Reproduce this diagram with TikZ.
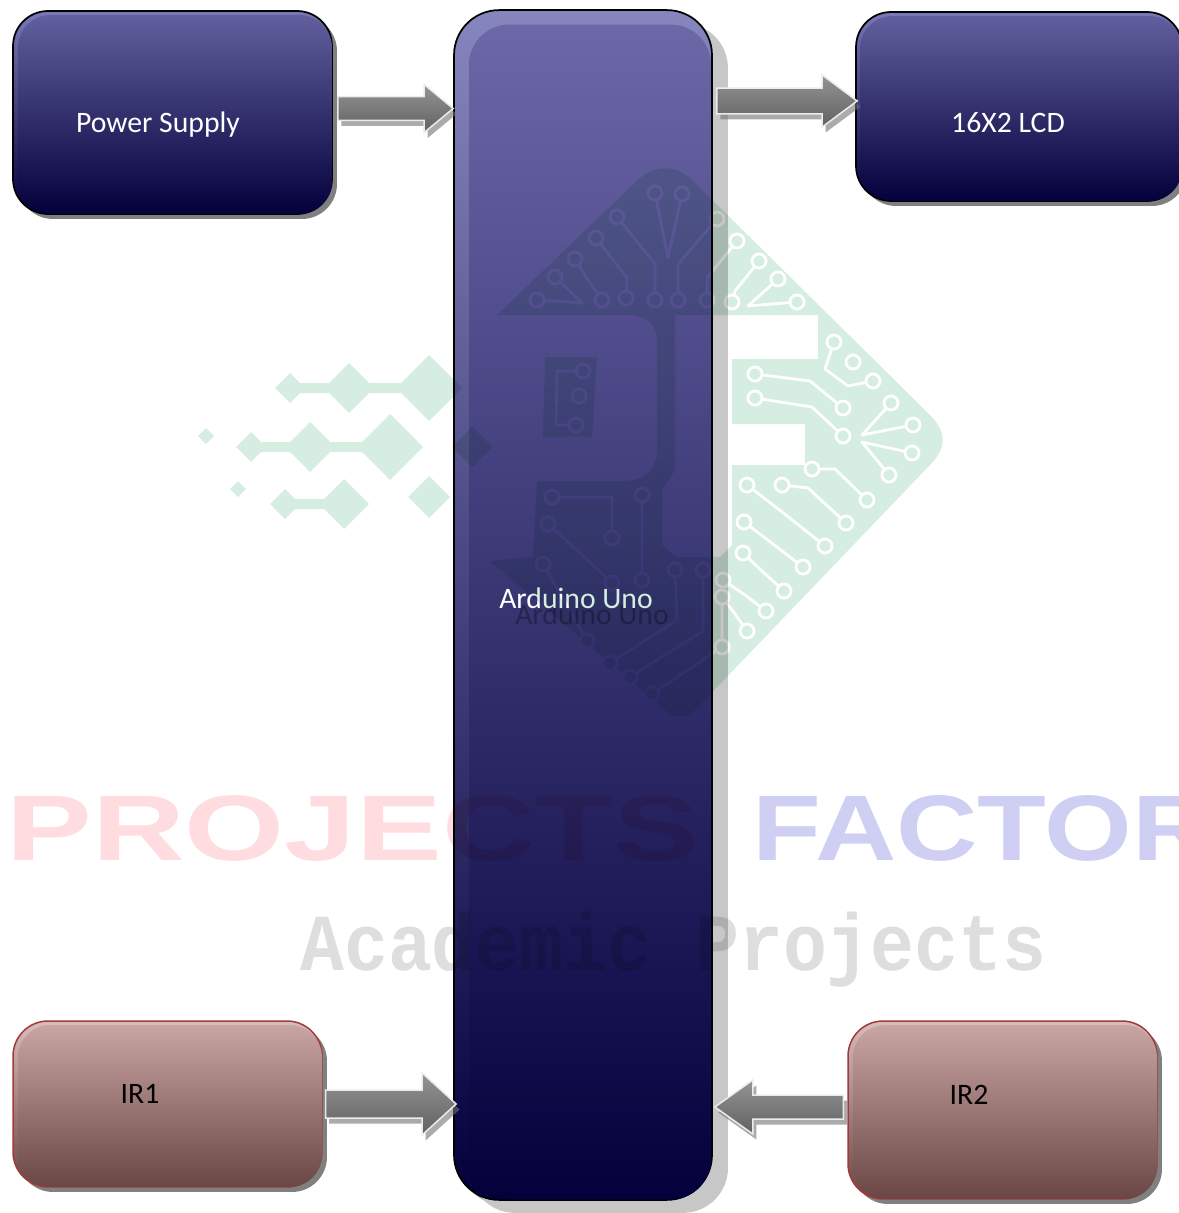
\documentclass[tikz,border=0pt]{standalone}
\usepackage{fontspec}
\setmainfont{Carlito}
\newfontfamily\wmsans{Liberation Sans}
\newfontfamily\wmserif{Liberation Mono}
\usetikzlibrary{calc, shadows}
\definecolor{bluetop}{HTML}{625F9E}
\definecolor{bluerim}{HTML}{7A78B6}
\definecolor{bluebot}{HTML}{03003C}
\definecolor{unotop}{HTML}{6C68A8}
\definecolor{redtop}{HTML}{C8A4A2}
\definecolor{redrim}{HTML}{D8BDBC}
\definecolor{redbot}{HTML}{6A4644}
\definecolor{redline}{HTML}{A23A3A}
\definecolor{logogreen}{HTML}{D6EEE1}
\definecolor{wmred}{HTML}{FFDCE0}
\definecolor{wmblue}{HTML}{CFCFF4}
\definecolor{wmgrey}{HTML}{DEDEDE}

\tikzset{
  boxsize/.style 2 args={minimum width=#1*0.2mm, minimum height=#2*0.2mm, inner sep=0pt},
  bluebox/.style={rounded corners=7mm, draw=black, line width=0.35mm, top color=bluerim, bottom color=bluebot,
                  drop shadow={shadow xshift=1mm, shadow yshift=-1mm, fill=black!50, opacity=1}},
  unobox/.style={bluebox, rounded corners=9mm, top color=bluerim!90!white,
                  drop shadow={shadow xshift=3.2mm, shadow yshift=-2.6mm, fill=black!22, opacity=1}},
  redbox/.style={rounded corners=7mm, draw=redline, line width=0.3mm, top color=redrim, bottom color=redbot,
                  drop shadow={shadow xshift=1mm, shadow yshift=-1mm, fill=black!50, opacity=1}},
  bluerimbox/.style={rounded corners=6.5mm, top color=bluetop, bottom color=bluebot},
  redrimbox/.style={rounded corners=6.5mm, top color=redtop, bottom color=redbot},
  whitetext/.style={text=white, font=\fontsize{16.9}{20}\selectfont},
  blacktext/.style={text=black, font=\fontsize{16.9}{20}\selectfont},
  arrowshadow/.style={fill=black!55, opacity=0.6, transform canvas={xshift=0.7mm, yshift=-1.1mm}},
  arrowbody/.style={draw=black!8, line width=0.3mm, top color=black!42, bottom color=black!62},
  logotrace/.style={draw=white, line width=0.55mm, line join=round},
  logopad/.style={draw=white, line width=0.55mm, fill=logogreen},
  wmtext/.style={anchor=base west, inner sep=0pt, font=\wmsans\bfseries\fontsize{53}{60}\selectfont},
}

% fat arrow between two coordinates: from, to, half body, head length, half head
\newcommand{\blockarrow}[5]{
  \coordinate (headbase) at ($(#2)!#4*0.2mm!(#1)$);
  \foreach \arrowstyle in {arrowshadow,arrowbody}
    \path[\arrowstyle] ($(#1)!#3*0.2mm!90:(#2)$) -- ($(headbase)!#3*0.2mm!90:(#2)$)
      -- ($(headbase)!#5*0.2mm!90:(#2)$) -- (#2) -- ($(headbase)!#5*0.2mm!-90:(#2)$)
      -- ($(headbase)!#3*0.2mm!-90:(#2)$) -- ($(#1)!#3*0.2mm!-90:(#2)$) -- cycle;
}

\begin{document}
\begin{tikzpicture}[x=0.02cm, y=-0.02cm]
  \useasboundingbox (0,0) rectangle (1178,1213);

  % Blocks
  \node[bluebox, boxsize={319}{203}] (power) at (172.5,112.5) {};
  \node[bluerimbox, boxsize={314}{199}] (powerrim) at (175,114.5) {};
  \node[unobox, boxsize={258}{1190}] (uno) at (583,605) {};
  \node[bluerimbox, rounded corners=8mm, top color=unotop, boxsize={242}{1175}] (unorim) at (590,612) {};
  \node[bluebox, boxsize={326}{189}] (lcd) at (1019,106.5) {};
  \node[bluerimbox, boxsize={322}{185}] (lcdrim) at (1021,108.5) {};
  \node[redbox, boxsize={309}{166}] (irone) at (167.5,1104) {};
  \node[redrimbox, boxsize={304}{162}] (ironerim) at (170,1106) {};
  \node[redbox, boxsize={309}{178}] (irtwo) at (1002.5,1110) {};
  \node[redrimbox, boxsize={304}{174}] (irtworim) at (1005,1112) {};

  % Labels
  \node[whitetext] (powertext) at (158,125) {Power Supply};
  \node[whitetext] (lcdtext) at (1008,123) {16X2 LCD};
  \node[blacktext, opacity=0.3] (unoghost) at (592,614) {Arduino Uno};
  \node[whitetext] (unotext) at (576,598) {Arduino Uno};
  \node[blacktext] (ironetext) at (140,1094) {IR1};
  \node[blacktext] (irtwotext) at (969,1095) {IR2};

  % Arrows
  \coordinate (powerout) at ($(power.east)+(5,-4)$);
  \coordinate (unoinpower) at (powerout -| uno.west);
  \coordinate (lcdin) at ($(lcd.west)+(2,-5.5)$);
  \coordinate (unoout) at ($(lcdin -| uno.east)+(4,0)$);
  \coordinate (ironeout) at ($(irone.east)+(3,0)$);
  \coordinate (unoinone) at ($(ironeout -| uno.west)+(3,0)$);
  \coordinate (irtwoout) at ($(irtwo.west)+(-4,-3)$);
  \coordinate (unointwo) at ($(irtwoout -| uno.east)+(2,0)$);
  \blockarrow{powerout}{unoinpower}{12}{29}{24}
  \blockarrow{unoout}{lcdin}{13}{35}{26}
  \blockarrow{ironeout}{unoinone}{14}{34}{31}
  \blockarrow{irtwoout}{unointwo}{12}{38}{27}

  % Watermark
  \begin{scope}[blend mode=multiply]
  \begin{scope}[transparency group]
    \fill[logogreen, even odd rule]
      (497,315) -- (640,178) .. controls (655,165) and (675,165) .. (690,178)
      -- (930,415) .. controls (947,432) and (947,448) .. (930,465)
      -- (700,705) .. controls (687,720) and (673,720) .. (660,705)
      -- (490,561) -- (533,557) -- (537,481) -- (625,481)
      .. controls (645,481) and (657,468) .. (657,450) -- (657,340)
      .. controls (657,325) and (645,315) .. (630,315) -- cycle
      (675,315) -- (818,315) -- (818,359) -- (732,359) -- (732,424) -- (805,424)
      -- (805,465) -- (732,465) -- (732,545) -- (720,557) -- (675,557) -- (662,545)
      -- (662,490) -- (675,470) -- cycle
      (545,357) -- (597,357) -- (592,437) -- (543,437) -- cycle;
    \foreach \px/\py/\pr in {290/388/15,349/388/25,429/388/33,251/447/15,310/447/25,390/447/33,
                             472/447/20,206/436/8,285/504/15,344/504/25,429/497/21,238/489/8}
      \fill[logogreen] (\px-\pr,\py) -- (\px,\py-\pr) -- (\px+\pr,\py) -- (\px,\py+\pr) -- cycle;
    \fill[logogreen] (290,383) rectangle (429,393);
    \fill[logogreen] (251,442) rectangle (390,452);
    \fill[logogreen] (285,499) rectangle (344,509);
    \foreach \pa/\pb/\pc in {{655,193}/{668,258}/{682,194}, {617,217}/{655,264}/{655,300},
        {596,238}/{627,278}/{626,298}, {575,259}/{588,280}/{602,300}, {555,277}/{582,303}/{537,300},
        {717,219}/{678,264}/{678,300}, {737,241}/{707,278}/{707,300}, {759,261}/{735,291}/{732,302},
        {778,279}/{748,306}/{797,302}, {755,374}/{810,381}/{843,408}, {755,398}/{812,407}/{843,436},
        {891,403}/{862,435}/{913,425}, {912,453}/{862,442}/{889,475}, {812,469}/{835,469}/{867,500},
        {782,485}/{808,488}/{846,523}, {747,485}/{786,515}/{825,546}, {744,522}/{773,544}/{803,567},
        {743,553}/{763,572}/{784,591}, {723,580}/{745,595}/{766,611}, {722,597}/{735,614}/{747,631},
        {552,497}/{612,497}/{612,538}, {548,524}/{580,553}/{612,583}, {642,495}/{642,537}/{642,580},
        {543,564}/{565,602}/{587,641}, {675,570}/{677,620}/{610,663}, {703,570}/{703,631}/{630,677},
        {722,597}/{722,647}/{652,694}}
    {
      \draw[logotrace] (\pa) -- (\pb) -- (\pc);
      \draw[logopad] (\pa) circle[radius=7];
      \draw[logopad] (\pc) circle[radius=7];
    }
    \draw[logotrace] (834,342) -- (825,369) -- (848,386) -- (873,381);
    \draw[logotrace] (583,371) -- (557,371) -- (556,425) -- (576,425);
    \foreach \pa in {{834,342},{873,381},{853,362},{583,371},{576,425},{579,396},{722,647}}
      \draw[logopad] (\pa) circle[radius=7];
    \node[wmtext, text=wmred, xscale=1.38] (wmprojects) at (6,860) {PROJECTS};
    \node[wmtext, text=wmblue, xscale=1.21] (wmfactory) at (752,860) {FACTORY};
    \node[text=wmgrey, font=\wmserif\bfseries\fontsize{46}{56}\selectfont, xscale=0.905, anchor=base west, inner sep=0pt]
      (wmacademic) at (300,970) {Academic Projects};
  \end{scope}
  \end{scope}
\end{tikzpicture}
\end{document}
